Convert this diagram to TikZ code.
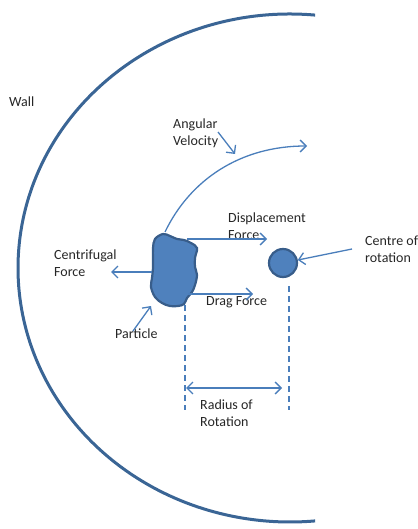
\documentclass[tikz,border=0pt]{standalone}
\usepackage{fontspec}
\setmainfont{Carlito}
\usepackage{tikz}
\usetikzlibrary{arrows.meta,positioning,calc}
\definecolor{wallC}{HTML}{3A6595}
\definecolor{arrC}{HTML}{4A7EBB}
\definecolor{bodyC}{HTML}{4F81BD}
\definecolor{edgeC}{HTML}{385D8A}
\definecolor{txtC}{HTML}{262626}
\tikzset{
  lbl/.style={anchor=west, align=left, inner sep=0pt, text=txtC,
              font=\fontsize{14}{17}\selectfont},
  arr/.style={-{Straight Barb[length=6pt,width=12pt]}, line width=1.3pt, draw=arrC},
  dim/.style={line width=1.5pt, draw=arrC, dash pattern=on 6pt off 4pt},
}

\begin{document}
\begin{tikzpicture}[x=1pt, y=-1pt]
    \useasboundingbox (0,0) rectangle (417,529);
    % wall of the vessel
    \draw[wallC, line width=3pt] (290,268) ++(84.7:272 and -254) arc[start angle=84.7, end angle=275.3, x radius=272, y radius=-254];
    % particle and centre
    \draw[edgeC, line width=2.2pt, fill=bodyC] plot[smooth cycle, tension=0.6] coordinates {
      (155,239) (163,234) (170,236) (177,239) (184,240) (191,243) (197,248)
      (195,258) (195,267) (197,275) (195,285) (192,292) (187,298) (184,304)
      (178,306) (170,306) (162,303) (155,297) (151,287) (152,278) (153,268)
      (153,258) (153,248)};
    \node[circle, draw=edgeC, line width=2.2pt, fill=bodyC, minimum size=28pt, inner sep=0pt] (ctr) at (283,263) {};
    % labels
    \node[lbl] (wall) at (9,102) {Wall};
    \node[lbl] (angv) at (173,133) {Angular\\Velocity};
    \node[lbl] (disp) at (228,226.5) {Displacement\\Force};
    \node[lbl] (cor) at (365,249.5) {Centre of\\rotation};
    \node[lbl] (cfg) at (54,263) {Centrifugal\\Force};
    \node[lbl] (drag) at (206,302) {Drag Force};
    \node[lbl] (part) at (115,334) {Particle};
    \node[lbl] (rad) at (200,413.5) {Radius of\\Rotation};
    % arrow ends
    \coordinate (dispA) at (187,239); \coordinate (dispB) at (267,239);
    \coordinate (dragA) at (188,294); \coordinate (dragB) at (253,294);
    \coordinate (cfgA) at (152,272);  \coordinate (cfgB) at (111,272);
    \coordinate (corA) at (352,249);
    \coordinate (partA) at (133,331); \coordinate (partB) at (151,306);
    \coordinate (angA) at (218,132);  \coordinate (angB) at (235,154);
    \coordinate (velA) at (165,232); \coordinate (velB) at (307,146);
    \coordinate (dimL) at (185,305); \coordinate (dimR) at (289,286);
    % arrows
    \draw[arr] (dispA) -- (dispB);
    \draw[arr] (dragA) -- (dragB);
    \draw[arr] (cfgA) -- (cfgB);
    \draw[arr] (corA) -- (ctr);
    \draw[arr] (partA) -- (partB);
    \draw[arr] (angA) -- (angB);
    \draw[arr] (velA) .. controls (190,180) and (240,146) .. (velB);
    % radius of rotation
    \draw[dim] (dimL) -- (dimL |- 0,410);
    \draw[dim] (dimR) -- (dimR |- 0,410);
    \draw[arr, {Straight Barb[length=6pt,width=12pt]}-{Straight Barb[length=6pt,width=12pt]}] ($(dimL |- 0,388)+(1,0)$) -- ($(dimR |- 0,388)+(-7,0)$);
\end{tikzpicture}
\end{document}
